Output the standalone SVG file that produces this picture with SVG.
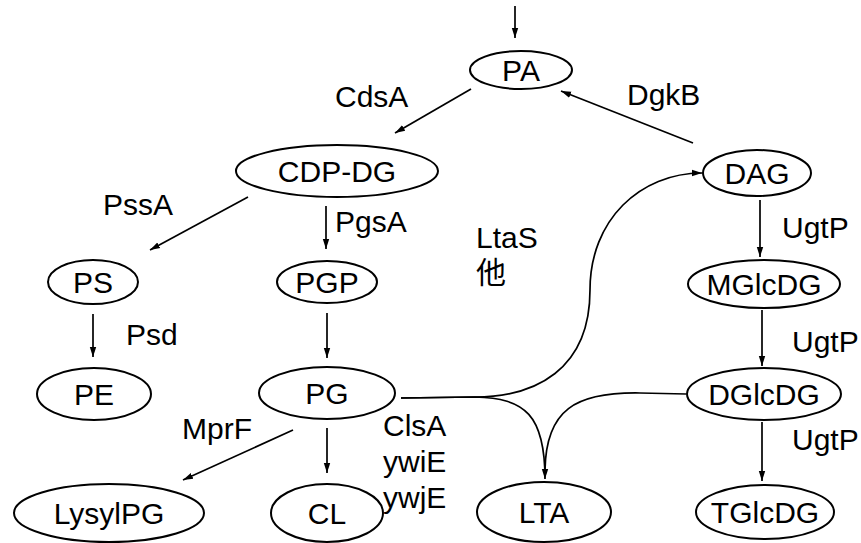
<svg xmlns="http://www.w3.org/2000/svg" width="861" height="543" viewBox="0 0 861 543">
<defs>
<marker id="ah" markerUnits="userSpaceOnUse" markerWidth="10" markerHeight="8" refX="10" refY="4" orient="auto">
<path d="M0,0.8 L10,4 L0,7.2 z" fill="#000"/>
</marker>
<style>
.n ellipse{fill:#fff;stroke:#000;stroke-width:2}
text{font-family:"Liberation Sans",Arial,"Noto Sans CJK JP",sans-serif;font-size:30px;fill:#000}
.n text{text-anchor:middle}
.e path,.e line{stroke:#000;stroke-width:1.7;fill:none;marker-end:url(#ah)}
.e .nm{marker-end:none}
</style>
</defs>
<rect width="861" height="543" fill="#fff"/>
<g class="e" id="connectors">
<line x1="515" y1="6" x2="515" y2="38"/>
<line x1="471" y1="89" x2="395" y2="133"/>
<line x1="693" y1="143" x2="561" y2="91"/>
<line x1="248" y1="197" x2="150" y2="250"/>
<line x1="326" y1="206" x2="326" y2="249"/>
<line x1="93" y1="314" x2="93" y2="357"/>
<line x1="327" y1="313" x2="327" y2="358"/>
<line x1="293" y1="430" x2="183" y2="480"/>
<line x1="327" y1="428" x2="327" y2="473"/>
<line x1="760" y1="200" x2="760" y2="257"/>
<line x1="762" y1="310" x2="762" y2="366"/>
<line x1="762" y1="422" x2="762" y2="481"/>
<path d="M401,398 L475,397 C535,397 590,370 590,290 C590,220 640,173 702,173"/>
<path d="M401,398 L475,397 C525,398 545,415 545,479"/>
<path class="nm" d="M686,394 L640,393 C575,392 546,410 545,470"/>
</g>
<g class="n" id="PA"><ellipse cx="521" cy="70" rx="51" ry="19"/><text x="521" y="81">PA</text></g>
<g class="n" id="CDP-DG"><ellipse cx="337" cy="171" rx="101" ry="26"/><text x="337" y="182">CDP-DG</text></g>
<g class="n" id="PS"><ellipse cx="93" cy="282" rx="45" ry="22"/><text x="93" y="293">PS</text></g>
<g class="n" id="PGP"><ellipse cx="327" cy="282" rx="50" ry="21"/><text x="327" y="293">PGP</text></g>
<g class="n" id="PE"><ellipse cx="94" cy="394" rx="57" ry="26"/><text x="94" y="405">PE</text></g>
<g class="n" id="PG"><ellipse cx="327" cy="393" rx="68" ry="26"/><text x="327" y="404">PG</text></g>
<g class="n" id="LysylPG"><ellipse cx="109" cy="513" rx="95" ry="29"/><text x="109" y="524">LysylPG</text></g>
<g class="n" id="CL"><ellipse cx="327" cy="513" rx="56" ry="29"/><text x="327" y="524">CL</text></g>
<g class="n" id="LTA"><ellipse cx="544" cy="512" rx="67" ry="30"/><text x="544" y="523">LTA</text></g>
<g class="n" id="DAG"><ellipse cx="757" cy="173" rx="54" ry="23"/><text x="757" y="184">DAG</text></g>
<g class="n" id="MGlcDG"><ellipse cx="764" cy="284" rx="76" ry="24"/><text x="764" y="295">MGlcDG</text></g>
<g class="n" id="DGlcDG"><ellipse cx="764" cy="394" rx="77" ry="26"/><text x="764" y="405">DGlcDG</text></g>
<g class="n" id="TGlcDG"><ellipse cx="765" cy="512" rx="69" ry="27"/><text x="765" y="523">TGlcDG</text></g>
<g id="labels">
<text x="335" y="107">CdsA</text>
<text x="627" y="105">DgkB</text>
<text x="103" y="215">PssA</text>
<text x="335" y="232">PgsA</text>
<text x="476" y="248">LtaS</text>
<text x="476" y="283">他</text>
<text x="126" y="345">Psd</text>
<text x="182" y="439">MprF</text>
<text x="383" y="436">ClsA</text>
<text x="383" y="472">ywiE</text>
<text x="383" y="508">ywjE</text>
<text x="782" y="238">UgtP</text>
<text x="792" y="352">UgtP</text>
<text x="792" y="450">UgtP</text>
</g>
</svg>
